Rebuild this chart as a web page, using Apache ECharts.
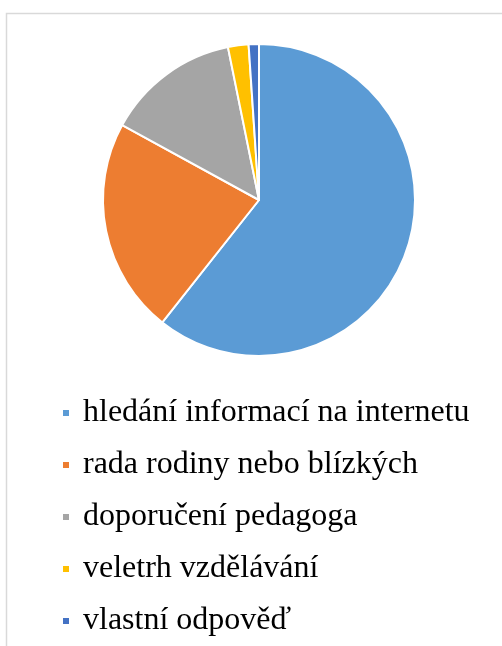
<!DOCTYPE html>
<html>
<head>
<meta charset="utf-8">
<script src="https://cdn.jsdelivr.net/npm/echarts@6/dist/echarts.min.js"></script>
<style>
  html, body { margin: 0; padding: 0; background: #fff; }
  #chart { width: 502px; height: 646px; }
</style>
</head>
<body>
<div id="chart"></div>
<script>
// categories and counts
const categories = [
  'hledání informací na internetu',
  'rada rodiny nebo blízkých',
  'doporučení pedagoga',
  'veletrh vzdělávání',
  'vlastní odpověď'
]
const counts = [57, 21, 13, 2, 1]
const colors = ['#5b9bd5', '#ed7d31', '#a5a5a5', '#ffc000', '#4472c4']

const chart = echarts.init(document.getElementById('chart'))

const pieData = categories.map((name, i) => ({ name, value: counts[i] }))

const option = {
  backgroundColor: '#fff',
  animation: false,
  color: colors,
  graphic: [
    {
      type: 'rect',
      shape: { x: 6.5, y: 13.5, width: 520, height: 660 },
      style: { fill: 'none', stroke: '#d9d9d9', lineWidth: 1.5 },
      silent: true
    }
  ],
  legend: {
    orient: 'vertical',
    left: 56,
    top: 391,
    icon: 'rect',
    itemWidth: 8,
    itemHeight: 8,
    itemGap: 18,
    data: categories,
    textStyle: {
      fontFamily: 'Liberation Serif',
      fontSize: 32,
      lineHeight: 34,
      color: '#000',
      padding: [0, 0, 0, 8]
    }
  },
  series: [
    {
      type: 'pie',
      center: [259, 200],
      radius: 156,
      startAngle: 90,
      clockwise: true,
      label: { show: false },
      labelLine: { show: false },
      itemStyle: { borderColor: '#fff', borderWidth: 2 },
      data: pieData
    }
  ]
}

chart.setOption(option)
</script>
</body>
</html>
